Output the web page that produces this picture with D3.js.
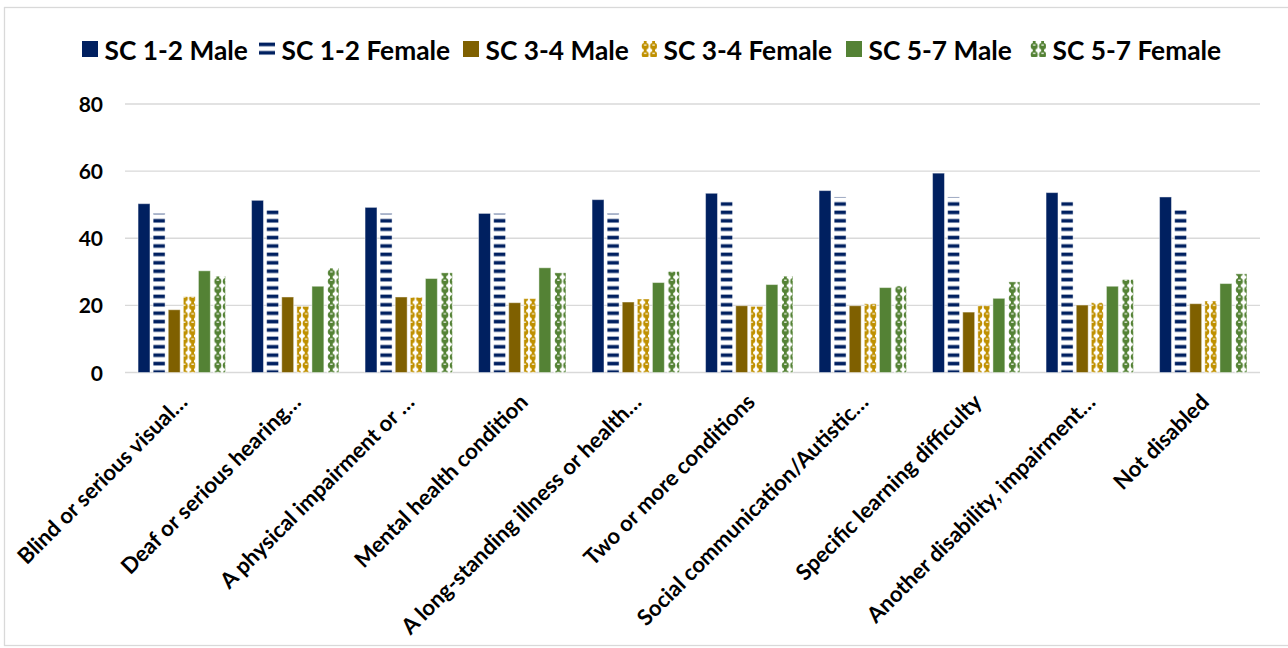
<!DOCTYPE html>
<html>
<head>
<meta charset="utf-8">
<script src="https://cdn.jsdelivr.net/npm/d3@7"></script>
<style>
  html, body { margin: 0; padding: 0; background: #fff; }
  svg { display: block; }
  text { font-family: Lato, "Open Sans", sans-serif; font-weight: 700; fill: #000; }
</style>
</head>
<body>
<svg id="chart" width="1288" height="648"></svg>
<script>
// Disability categories along the x axis
const categories = [
  "Blind or serious visual…",
  "Deaf or serious hearing…",
  "A physical impairment or …",
  "Mental health condition",
  "A long-standing illness or health…",
  "Two or more conditions",
  "Social communication/Autistic…",
  "Specific learning difficulty",
  "Another disability, impairment…",
  "Not disabled"
];

// Series names, in legend order
const seriesNames = [
  "SC 1-2 Male", "SC 1-2 Female",
  "SC 3-4 Male", "SC 3-4 Female",
  "SC 5-7 Male", "SC 5-7 Female"
];

// Values per series, one per category
const sc12Male   = [50.3, 51.3, 49.2, 47.4, 51.5, 53.4, 54.2, 59.4, 53.6, 52.3];
const sc12Female = [47.4, 48.9, 47.4, 47.4, 47.4, 51.0, 52.3, 52.3, 51.0, 49.2];
const sc34Male   = [18.7, 22.5, 22.5, 20.8, 21.0, 19.9, 19.9, 18.0, 20.1, 20.5];
const sc34Female = [22.6, 19.7, 22.4, 22.0, 21.9, 19.7, 20.5, 19.9, 20.8, 21.3];
const sc57Male   = [30.3, 25.7, 28.0, 31.2, 26.8, 26.2, 25.3, 22.1, 25.7, 26.5];
const sc57Female = [28.7, 31.1, 29.7, 29.7, 30.1, 28.7, 25.8, 27.0, 27.7, 29.4];

const yTicks = [0, 20, 40, 60, 80];

const seriesValues = [sc12Male, sc12Female, sc34Male, sc34Female, sc57Male, sc57Female];

const navy = "#002060", brown = "#7f6000", gold = "#bf9000", green = "#548235";
const fills = ["navy-solid", "navy-stripe", "brown-solid", "gold-sphere", "green-solid", "green-sphere"];

const svg = d3.select("#chart");
const defs = svg.append("defs");

// Horizontal stripe fill
function stripePattern(id, color) {
  const p = defs.append("pattern")
    .attr("id", id).attr("patternUnits", "userSpaceOnUse")
    .attr("width", 8.4).attr("height", 8.4);
  p.append("rect").attr("width", 8.4).attr("height", 8.4).attr("fill", "#fff");
  p.append("rect").attr("y", 0.6).attr("width", 8.4).attr("height", 3.6).attr("fill", color);
}

// Chain-of-spheres fill
function spherePattern(id, color) {
  const p = defs.append("pattern")
    .attr("id", id).attr("patternUnits", "userSpaceOnUse")
    .attr("width", 8.4).attr("height", 8.4);
  p.append("rect").attr("width", 8.4).attr("height", 8.4).attr("fill", "#fff");
  p.append("circle").attr("cx", 4.2).attr("cy", 4.2).attr("r", 3.5).attr("fill", color);
  p.append("rect").attr("x", 2.8).attr("y", 0).attr("width", 2.8).attr("height", 8.4).attr("fill", color);
  p.append("rect").attr("x", 3.0).attr("y", 2.4).attr("width", 2.4).attr("height", 1.2).attr("fill", "#fff");
}

stripePattern("navy-stripe", navy);
spherePattern("gold-sphere", gold);
spherePattern("green-sphere", green);

const fillFor = (i) => {
  if (fills[i] === "navy-solid") return navy;
  if (fills[i] === "brown-solid") return brown;
  if (fills[i] === "green-solid") return green;
  return `url(#${fills[i]})`;
};

// Outer frame
svg.append("rect")
  .attr("x", 4.5).attr("y", 7.5).attr("width", 1300).attr("height", 638)
  .attr("fill", "none").attr("stroke", "#d9d9d9").attr("stroke-width", 1.3);

// Scales
const plot = { left: 125, right: 1260, top: 104, bottom: 372.5 };
const x0 = d3.scaleBand().domain(categories)
  .range([plot.left, plot.right]).paddingInner(0.23).paddingOuter(0.115);
const x1 = d3.scaleBand().domain(d3.range(seriesNames.length))
  .range([0, x0.bandwidth()]).paddingInner(0.21).paddingOuter(0);
const y = d3.scaleLinear().domain([0, 80]).range([plot.bottom, plot.top]);

// Gridlines
svg.append("g").selectAll("line").data(yTicks).join("line")
  .attr("x1", plot.left).attr("x2", plot.right)
  .attr("y1", d => y(d)).attr("y2", d => y(d))
  .attr("stroke", "#d9d9d9").attr("stroke-width", 1.4);

// Y axis labels
const yAxis = d3.axisLeft(y).tickValues(yTicks).tickSize(0).tickPadding(0);
const yg = svg.append("g").attr("transform", "translate(103,0)").call(yAxis);
yg.select(".domain").remove();
yg.selectAll("text").attr("font-size", 21).attr("font-family", "Lato, sans-serif")
  .attr("font-weight", 700).attr("fill", "#000").attr("dy", "0.36em");

// Bars
const groups = svg.append("g").selectAll("g").data(categories).join("g")
  .attr("transform", d => `translate(${x0(d)},0)`);
groups.selectAll("rect")
  .data((c, ci) => seriesValues.map((vals, si) => ({ si, v: vals[ci] })))
  .join("rect")
  .attr("x", d => x1(d.si))
  .attr("width", x1.bandwidth())
  .attr("y", d => y(d.v))
  .attr("height", d => y(0) - y(d.v))
  .attr("fill", d => fillFor(d.si))
  .attr("stroke", "#ffffff").attr("stroke-opacity", 0.45).attr("stroke-width", 1);

// Category labels, rotated
const xg = svg.append("g");
xg.selectAll("text").data(categories).join("text")
  .attr("transform", d => `translate(${x0(d) + x0.bandwidth() / 2 + 7},${plot.bottom + 31}) rotate(-45)`)
  .attr("text-anchor", "end")
  .attr("font-size", 22)
  .text(d => d);

// Legend: swatch left edges along the top row
const legendX = [82, 259, 463, 641, 846, 1030];
const legend = svg.append("g");
seriesNames.forEach((name, i) => {
  const g = legend.append("g").attr("transform", `translate(${legendX[i]},0)`);
  g.append("rect").attr("x", 0).attr("y", 41).attr("width", 16).attr("height", 16)
    .attr("fill", fillFor(i));
  g.append("text").attr("x", 22.5).attr("y", 59.5).attr("font-size", 26.3).text(name);
});
</script>
</body>
</html>
